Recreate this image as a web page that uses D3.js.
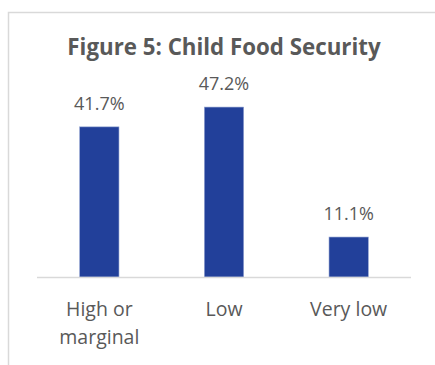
<!DOCTYPE html>
<html>
<head>
<meta charset="utf-8">
<script src="https://cdn.jsdelivr.net/npm/d3@7"></script>
<style>
  body { margin: 0; background: #fff; }
  text { font-family: "Open Sans", sans-serif; fill: #595959; }
</style>
</head>
<body>
<div id="chart"></div>
<script>
var categories = ["High or|marginal", "Low", "Very low"];
var values = [41.7, 47.2, 11.1];
var valueLabels = ["41.7%", "47.2%", "11.1%"];
var chartTitle = "Figure 5: Child Food Security";

var W = 435, H = 365;
var margin = { left: 37, right: 24, top: 97, bottom: 88 };
var width = W - margin.left - margin.right,
    height = H - margin.top - margin.bottom;

var svg = d3.select('#chart').append('svg')
  .attr('width', W)
  .attr('height', H);

// chart frame
svg.append('rect')
  .attr('x', 8.5).attr('y', 12.5)
  .attr('width', 460).attr('height', 400)
  .attr('fill', 'none')
  .attr('stroke', '#d9d9d9')
  .attr('stroke-width', 1.5);

svg.append('text')
  .attr('x', 224).attr('y', 55)
  .attr('text-anchor', 'middle')
  .style('font-weight', 'bold')
  .style('font-size', '22.3px')
  .text(chartTitle);

var xScale = d3.scaleBand()
  .domain(categories)
  .range([0, width])
  .paddingInner(0.685)
  .paddingOuter(0.3425);

var yScale = d3.scaleLinear()
  .domain([0, 50])
  .range([height, 0]);

var g = svg.append('g')
  .attr('transform', 'translate(' + margin.left + ',' + margin.top + ')');

g.selectAll('rect.bar').data(values)
  .enter().append('rect')
  .attr('class', 'bar')
  .attr('x', function(d, i) { return xScale(categories[i]); })
  .attr('y', function(d) { return yScale(d); })
  .attr('width', xScale.bandwidth())
  .attr('height', function(d) { return height - yScale(d); })
  .attr('fill', '#22409a')
  .attr('stroke', '#8fa0d0')
  .attr('stroke-width', 0.6);

g.selectAll('text.val').data(values)
  .enter().append('text')
  .attr('class', 'val')
  .attr('x', function(d, i) { return xScale(categories[i]) + xScale.bandwidth() / 2; })
  .attr('y', function(d) { return yScale(d) - 17; })
  .attr('text-anchor', 'middle')
  .style('font-size', '18px')
  .text(function(d, i) { return valueLabels[i]; });

// baseline
g.append('line')
  .attr('x1', 0).attr('x2', width)
  .attr('y1', height + 0.5).attr('y2', height + 0.5)
  .attr('stroke', '#d9d9d9')
  .attr('stroke-width', 1.5);

var xAxis = d3.axisBottom(xScale).tickSize(0).tickFormat('');
g.append('g').attr('transform', 'translate(0,' + height + ')').call(xAxis)
  .select('.domain').remove();

var cat = g.selectAll('text.cat').data(categories)
  .enter().append('text')
  .attr('class', 'cat')
  .attr('x', function(d) { return xScale(d) + xScale.bandwidth() / 2; })
  .attr('y', height + 39)
  .attr('text-anchor', 'middle')
  .style('font-size', '19.5px');

cat.each(function(d) {
  var t = d3.select(this);
  d.split('|').forEach(function(line, i) {
    t.append('tspan')
      .attr('x', t.attr('x'))
      .attr('dy', i === 0 ? 0 : 28)
      .text(line);
  });
});
</script>
</body>
</html>
